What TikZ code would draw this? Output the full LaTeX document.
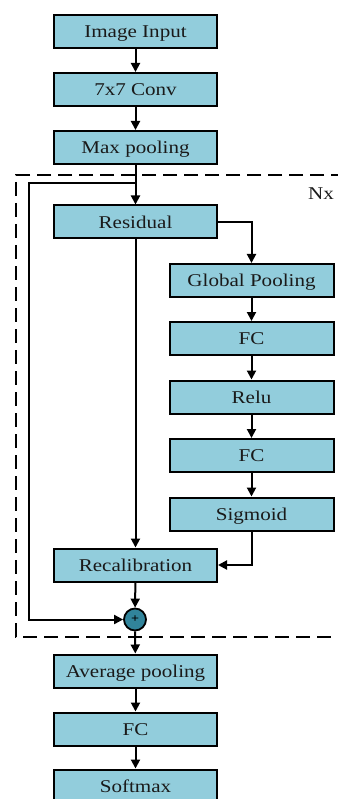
\documentclass[tikz,border=0pt]{standalone}
\usepackage{fontspec}
\setmainfont{Liberation Serif}[FakeStretch=1.17]
\usetikzlibrary{arrows.meta}
\definecolor{boxfill}{HTML}{92CDDC}
\definecolor{addfill}{HTML}{31849B}
\definecolor{txt}{HTML}{1A1A1A}
\begin{document}
\begin{tikzpicture}[x=1pt,y=-1pt,
  label font/.style={font=\fontsize{18}{20}\selectfont, text=txt},
  layer/.style={draw=black, line width=2pt, fill=boxfill, minimum width=163pt,
    minimum height=33pt, inner sep=0pt, text height=12.5pt, text depth=0pt, label font},
  sidebox/.style={layer, minimum width=164pt, minimum height=33pt},
  adder/.style={circle, draw=black, line width=1.8pt, fill=addfill, minimum size=22pt, inner sep=0pt},
  link/.style={line width=2pt, -{Triangle[width=9pt,length=9pt]}},
  frame/.style={line width=2pt, dash pattern=on 14pt off 7pt}]
\useasboundingbox (0,0) rectangle (337,799);

% repeated block (dashed frame)
\draw[frame] (345,175) -- (16,175) -- (16,637) -- (345,637);
\node[label font] (nx) at (321,194) {Nx};

% main column
\node[layer] (inp)  at (135.5,31.5)  {Image Input};
\node[layer] (conv) at (135.5,89.5)  {7x7 Conv};
\node[layer] (maxp) at (135.5,147.5) {Max pooling};
\node[layer] (res)  at (135.5,222)   {Residual};
\node[layer] (rec)  at (135.5,565)   {Recalibration};
\node[adder] (add)  at (135,619.5)   {};
\node[font=\bfseries\fontsize{12}{12}\selectfont] at (add) {+};
\node[layer] (avg)  at (135.5,671)   {Average pooling};
\node[layer] (fc3)  at (135.5,729)   {FC};
\node[layer] (soft) at (135.5,786)   {Softmax};

% squeeze-excitation branch
\node[sidebox] (gp)  at (251.5,280.5) {Global Pooling};
\node[sidebox] (fc1) at (251.5,338.5) {FC};
\node[sidebox] (relu) at (251.5,397)  {Relu};
\node[sidebox] (fc2) at (251.5,455.5) {FC};
\node[sidebox] (sig) at (251.5,514)   {Sigmoid};

% connectors
\draw[link] (inp) -- (conv);
\draw[link] (conv) -- (maxp);
\draw[link] (maxp) -- (res);
\coordinate (split) at (135.5,183);
\coordinate (skip) at (29,183);
\draw[link] (split) -- (skip) |- (add.west);
\draw[link] (res) -- (rec);
\draw[link] (res.east) -| (gp.north);
\draw[link] (gp) -- (fc1);
\draw[link] (fc1) -- (relu);
\draw[link] (relu) -- (fc2);
\draw[link] (fc2) -- (sig);
\draw[link] (sig.south) |- (rec.east);
\draw[link] (rec) -- (add);
\draw[link] (add) -- (avg);
\draw[link] (avg) -- (fc3);
\draw[link] (fc3) -- (soft);
\end{tikzpicture}
\end{document}
